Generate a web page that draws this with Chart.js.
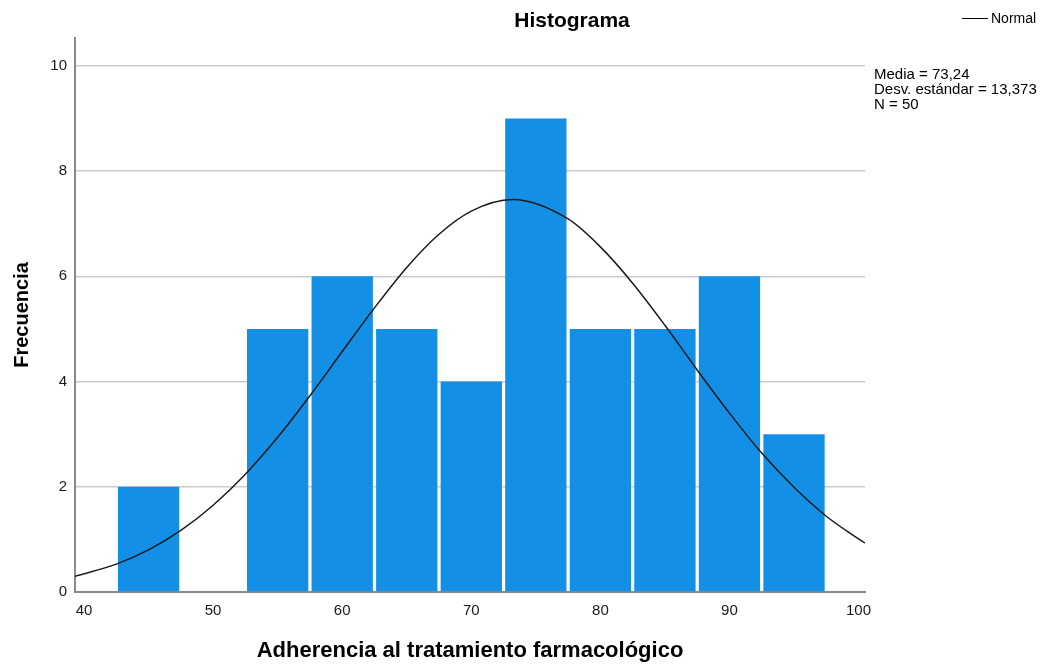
<!DOCTYPE html>
<html>
<head>
<meta charset="utf-8">
<title>Histograma</title>
<script src="https://cdn.jsdelivr.net/npm/chart.js@4"></script>
<style>
  body { margin: 0; background: #fff; }
  canvas { display: block; }
</style>
</head>
<body>
<canvas id="histChart" width="1044" height="664"></canvas>
<script>
// Data
const binCenters = [45, 50, 55, 60, 65, 70, 75, 80, 85, 90, 95];
const frequencies = [2, 0, 5, 6, 5, 4, 9, 5, 5, 6, 3];

// Normal curve, read point by point
const curveX = [39.3, 42.5, 45, 47.5, 50, 52.5, 55, 57.5, 60, 62.5, 65, 67.5, 70, 73.2, 77.5, 80, 82.5, 85, 87.5, 90, 92.5, 95, 97.5, 100, 100.5];
const curveY = [0.30, 0.53, 0.80, 1.17, 1.65, 2.24, 2.94, 3.73, 4.57, 5.40, 6.17, 6.80, 7.24, 7.46, 7.09, 6.56, 5.87, 5.07, 4.22, 3.40, 2.64, 1.99, 1.44, 1.01, 0.93];

const xTicks = [40, 50, 60, 70, 80, 90, 100];
const yTicks = [0, 2, 4, 6, 8, 10];
const statsLines = ['Media = 73,24', 'Desv. estándar = 13,373', 'N = 50'];

const FONT = '"Liberation Sans", Arial, sans-serif';
Chart.defaults.font.family = FONT;
Chart.defaults.color = '#222';

// Title, legend and stats box
const extrasPlugin = {
    id: 'extras',
    afterDraw(chart) {
        const c = chart.ctx;
        c.save();
        c.fillStyle = '#000';
        c.textBaseline = 'middle';

        c.font = 'bold 21px ' + FONT;
        c.textAlign = 'center';
        c.fillText('Histograma', 572, 21);

        c.strokeStyle = '#000';
        c.lineWidth = 1;
        c.beginPath();
        c.moveTo(962, 18.5);
        c.lineTo(988, 18.5);
        c.stroke();
        c.font = '14px ' + FONT;
        c.textAlign = 'left';
        c.fillText('Normal', 991, 19);

        c.font = '15px ' + FONT;
        statsLines.forEach((line, i) => {
            c.fillText(line, 874, 75 + i * 15);
        });
        c.restore();
    }
};

const ctx = document.getElementById('histChart').getContext('2d');
const histChart = new Chart(ctx, {
    type: 'bar',
    data: {
        datasets: [{
            type: 'line',
            label: 'Normal',
            data: curveX.map((x, i) => ({ x: x, y: curveY[i] })),
            borderColor: '#1a1a1a',
            borderWidth: 1.5,
            pointRadius: 0,
            cubicInterpolationMode: 'monotone',
            fill: false,
            order: 0
        }, {
            label: 'Frecuencia',
            data: binCenters.map((x, i) => ({ x: x, y: frequencies[i] })),
            backgroundColor: '#148fe6',
            borderWidth: 0,
            barPercentage: 0.95,
            categoryPercentage: 1,
            order: 1
        }]
    },
    options: {
        responsive: false,
        animation: false,
        layout: { padding: { top: 38, left: 0, right: 179, bottom: 0 } },
        plugins: {
            legend: { display: false },
            tooltip: { enabled: false }
        },
        scales: {
            x: {
                type: 'linear',
                min: 39.3,
                max: 100.5,
                offset: false,
                afterBuildTicks: axis => { axis.ticks = xTicks.map(v => ({ value: v })); },
                afterFit: axis => { axis.height = 72; },
                grid: { display: false, drawTicks: false },
                border: { display: true, color: '#8a8a8a', width: 2 },
                ticks: { font: { size: 15 }, color: '#1a1a1a', padding: 10, maxRotation: 0 },
                title: {
                    display: true,
                    text: 'Adherencia al tratamiento farmacológico',
                    font: { size: 22, weight: 'bold' },
                    color: '#000',
                    padding: { top: 12, bottom: 0 }
                }
            },
            y: {
                min: 0,
                max: 10.53,
                afterBuildTicks: axis => { axis.ticks = yTicks.map(v => ({ value: v })); },
                afterFit: axis => { axis.width = 75; },
                grid: { color: '#cccccc', lineWidth: 1.5, drawTicks: false },
                border: { display: true, color: '#8a8a8a', width: 2 },
                ticks: { font: { size: 15 }, color: '#1a1a1a', padding: 8 },
                title: {
                    display: true,
                    text: 'Frecuencia',
                    font: { size: 20, weight: 'bold' },
                    color: '#000',
                    padding: { bottom: 0, top: 10 }
                }
            }
        }
    },
    plugins: [extrasPlugin]
});
</script>
</body>
</html>
